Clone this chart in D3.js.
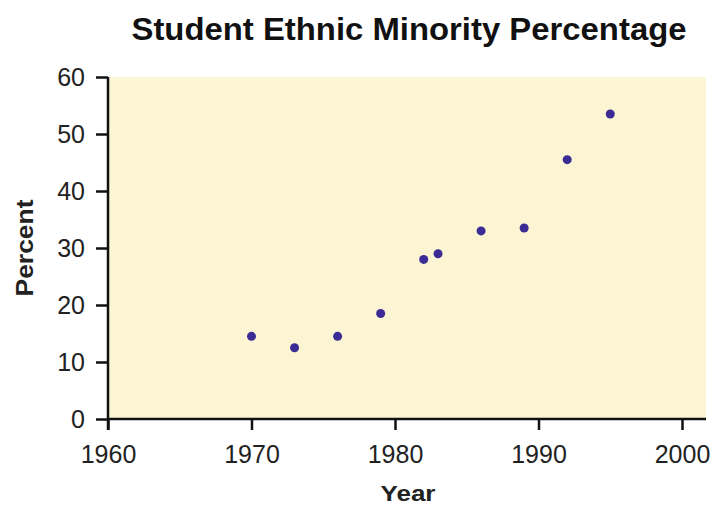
<!DOCTYPE html>
<html><head><meta charset="utf-8">
<script src="https://cdn.jsdelivr.net/npm/d3@7"></script>
<style>body{margin:0;background:#fff}svg{display:block}text{font-family:"Liberation Sans",Arial,sans-serif}</style>
</head><body><svg id="c" width="712" height="507"></svg>
<script>
const years = [1970, 1973, 1976, 1979, 1982, 1983, 1986, 1989, 1992, 1995];
const percents = [14.5, 12.5, 14.5, 18.5, 28, 29, 33, 33.5, 45.5, 53.5];
const xTicks = [1960, 1970, 1980, 1990, 2000];
const yTicks = [0, 10, 20, 30, 40, 50, 60];

const svg = d3.select("#c");
const x = d3.scaleLinear().domain([1960, 2000]).range([108, 682]);
const y = d3.scaleLinear().domain([0, 60]).range([419, 77]);
const xEnd = 706;

svg.append("rect").attr("x", x(1960)).attr("y", y(60))
  .attr("width", xEnd - x(1960)).attr("height", y(0) - y(60)).attr("fill", "#fcf5d4");

const xa = svg.append("g").attr("transform", `translate(0,${y(0)})`)
  .call(d3.axisBottom(x).tickValues(xTicks).tickFormat(d3.format("d")).tickSize(11).tickSizeOuter(0));
xa.select(".domain").attr("d", `M${x(1960)},0H${xEnd}`).attr("stroke", "#111").attr("stroke-width", 2.5);
xa.selectAll(".tick line").attr("stroke", "#111").attr("stroke-width", 2.5);
xa.selectAll(".tick text").attr("font-size", 25).attr("fill", "#222").attr("y", 26).attr("dy", "0.71em");

const ya = svg.append("g").attr("transform", `translate(${x(1960)},0)`)
  .call(d3.axisLeft(y).tickValues(yTicks).tickSize(12).tickSizeOuter(0));
ya.select(".domain").attr("d", `M0,${y(60)}V${y(0) + 11}`).attr("stroke", "#111").attr("stroke-width", 2.5);
ya.selectAll(".tick line").attr("stroke", "#111").attr("stroke-width", 2.5);
ya.selectAll(".tick text").attr("font-size", 25).attr("fill", "#222").attr("x", -23);

svg.append("g").selectAll("circle").data(years).join("circle")
  .attr("cx", (d) => x(d)).attr("cy", (d, i) => y(percents[i])).attr("r", 4.5)
  .attr("fill", "#3b2b95");

svg.append("text").attr("x", 409).attr("y", 40).attr("text-anchor", "middle")
  .attr("font-size", 31).attr("font-weight", "bold").attr("fill", "#111")
  .attr("textLength", 555).attr("lengthAdjust", "spacingAndGlyphs")
  .text("Student Ethnic Minority Percentage");
svg.append("text").attr("x", 408).attr("y", 501).attr("text-anchor", "middle")
  .attr("font-size", 22).attr("font-weight", "bold").attr("fill", "#222")
  .attr("textLength", 55).attr("lengthAdjust", "spacingAndGlyphs").text("Year");
svg.append("text").attr("transform", "translate(33,248) rotate(-90)").attr("text-anchor", "middle")
  .attr("font-size", 24).attr("font-weight", "bold").attr("fill", "#222")
  .attr("textLength", 97).attr("lengthAdjust", "spacingAndGlyphs").text("Percent");
</script></body></html>
